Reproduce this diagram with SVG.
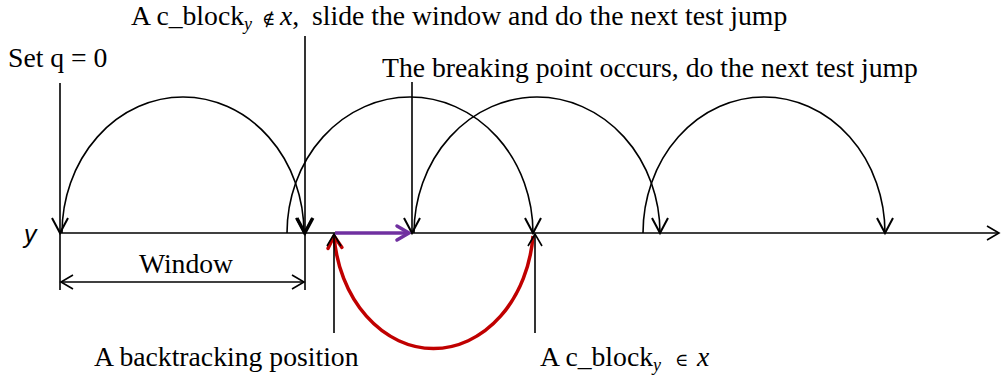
<svg xmlns="http://www.w3.org/2000/svg" width="1001" height="380" viewBox="0 0 1001 380">
<style>
.t{font-family:"Liberation Serif","Times New Roman",serif;font-size:27.7px;fill:#000}
.ln{stroke:#000;stroke-width:1.6;fill:none}
.arc{stroke:#000;stroke-width:1.6;fill:none;marker-end:url(#ah)}
.sym{font-family:"DejaVu Serif",serif;font-size:18px}
.sub{font-style:italic;font-size:18px}
</style>
<defs>
<marker id="ah" markerUnits="userSpaceOnUse" orient="auto" markerWidth="30" markerHeight="30" viewBox="-20 -15 30 30" refX="0" refY="0" overflow="visible">
<path d="M-15,-8 L0,0 L-15,8" fill="none" stroke="#000" stroke-width="2"/>
</marker>
<marker id="ahb" markerUnits="userSpaceOnUse" orient="auto" markerWidth="30" markerHeight="30" viewBox="-20 -15 30 30" refX="0" refY="0" overflow="visible">
<path d="M-15,-8 L0,0 L-15,8" fill="none" stroke="#000" stroke-width="3"/>
</marker>
<marker id="ahs" markerUnits="userSpaceOnUse" orient="auto-start-reverse" markerWidth="30" markerHeight="30" viewBox="-20 -15 30 30" refX="0" refY="0" overflow="visible">
<path d="M-12,-7 L0,0 L-12,7" fill="none" stroke="#000" stroke-width="1.6"/>
</marker>
<marker id="ahp" markerUnits="userSpaceOnUse" orient="auto" markerWidth="30" markerHeight="30" viewBox="-20 -15 30 30" refX="0" refY="0" overflow="visible">
<path d="M-12,-7 L0,0 L-12,7" fill="none" stroke="#7030A0" stroke-width="3.5" stroke-linecap="round" stroke-linejoin="round"/>
</marker>
<marker id="ahr" markerUnits="userSpaceOnUse" orient="auto" markerWidth="30" markerHeight="30" viewBox="-20 -15 30 30" refX="0" refY="0" overflow="visible">
<path d="M-12,-7 L0,0 L-12,7" fill="none" stroke="#C00000" stroke-width="3.5" stroke-linecap="round" stroke-linejoin="round"/>
</marker>
</defs>
<rect width="1001" height="380" fill="#fff"/>

<g id="connectors">
<!-- axis -->
<line class="ln" x1="59" y1="233" x2="999" y2="233" stroke-width="2" marker-end="url(#ahs)"/>
<!-- jump arcs -->
<path class="arc" d="M62,233 A121,136 0 0 1 304,233"/>
<path class="arc" d="M287,233 A123,136 0 0 1 533,233"/>
<path class="arc" d="M414,233 A123,136 0 0 1 660,233"/>
<path class="arc" d="M643,233 A121,136 0 0 1 885,233"/>
<!-- pointer lines -->
<line class="ln" x1="60" y1="83" x2="60" y2="233" marker-end="url(#ah)"/>
<line class="ln" x1="60" y1="233" x2="60" y2="290"/>
<line class="ln" x1="305" y1="36" x2="305" y2="233" marker-end="url(#ahb)"/>
<line class="ln" x1="305" y1="233" x2="305" y2="290"/>
<line class="ln" x1="412" y1="82" x2="412" y2="233" marker-end="url(#ah)"/>
<!-- red backtracking arc -->
<path d="M533,236 A100,125 0 0 1 334,236" fill="none" stroke="#C00000" stroke-width="3.5" marker-end="url(#ahr)"/>
<line class="ln" x1="334" y1="333" x2="334" y2="234" marker-end="url(#ahs)"/>
<line class="ln" x1="535" y1="333" x2="535" y2="234" marker-end="url(#ahs)"/>
<!-- purple slide -->
<line x1="335" y1="233" x2="409" y2="233" stroke="#7030A0" stroke-width="3.5" marker-end="url(#ahp)"/>
<!-- window dimension -->
<line class="ln" x1="61" y1="282" x2="304" y2="282" marker-start="url(#ahs)" marker-end="url(#ahs)"/>
</g>

<g id="label-top">
<text class="t" x="131" y="25">A c_block<tspan class="sub" dy="5">y</tspan><tspan class="sym" dy="-5" x="262">∉</tspan><tspan font-style="italic" x="280">x</tspan>,<tspan x="312">slide the window and do the next test jump</tspan></text>
</g>
<g id="label-setq">
<text class="t" x="8" y="67">Set q = 0</text>
</g>
<g id="label-break">
<text class="t" x="382" y="77">The breaking point occurs, do the next test jump</text>
</g>
<g id="label-y">
<text x="24" y="243" font-family="Liberation Sans,Arial,sans-serif" font-style="italic" font-size="25">y</text>
</g>
<g id="label-window">
<text class="t" x="186" y="273" text-anchor="middle">Window</text>
</g>
<g id="label-backtrack">
<text class="t" x="94" y="366">A backtracking position</text>
</g>
<g id="label-inx">
<text class="t" x="540" y="366">A c_block<tspan class="sub" dy="5">y</tspan><tspan class="sym" dy="-5" x="675">∈</tspan><tspan font-style="italic" x="697">x</tspan></text>
</g>
</svg>
